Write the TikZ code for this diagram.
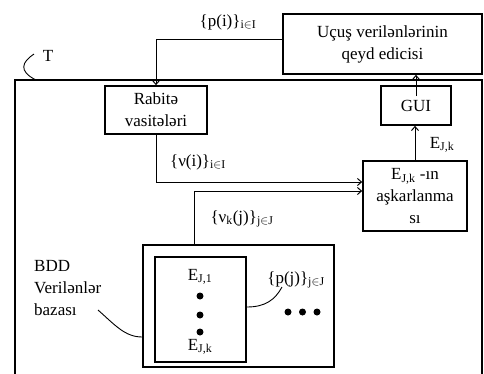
\documentclass[tikz,border=0pt]{standalone}
\usepackage{fontspec}
\setmainfont{Liberation Serif}
\usetikzlibrary{arrows.meta}
\newcommand{\sub}[1]{\textsubscript{#1}}
\begin{document}
\begin{tikzpicture}[x=1pt,y=-1pt,
  font=\fontsize{17}{22}\selectfont,
  box/.style={draw,line width=1.6pt,inner sep=0pt,align=center},
  flow/.style={line width=1pt,-{Straight Barb[length=4pt,width=7pt,line width=1pt]}},
  thin/.style={line width=0.9pt},
  lbl/.style={inner sep=0pt,align=center},
  dot/.style={circle,fill,inner sep=0pt,minimum size=7pt}]
\useasboundingbox (0,0) rectangle (484,373);
\begin{scope}
\clip (0,0) rectangle (484,373);
% enclosing block T
\draw[line width=1.6pt] (15,390) -- (15,80) -- (482,80) -- (482,390);
\end{scope}

% blocks
\node[box,minimum width=199pt,minimum height=60pt] (uc) at (382.5,44) {Uçuş verilənlərinin\\qeyd edicisi};
\node[box,minimum width=102pt,minimum height=48pt] (rab) at (156,110) {Rabitə\\vasitələri};
\node[box,minimum width=70pt,minimum height=39pt] (gui) at (416,105.5) {GUI};
\node[box,minimum width=104pt,minimum height=70pt] (ask) at (415,196) {E\sub{J,k} -ın\\aşkarlanma\\sı};
\node[box,minimum width=191pt,minimum height=122pt] (bdd) at (238.5,306) {};
\node[box,minimum width=91pt,minimum height=105pt] (db) at (200.5,309.5) {};

% records inside the database
\node[lbl] (e1) at (200,277) {E\sub{J,1}};
\node[dot] (d1) at (200,296) {};
\node[dot] (d2) at (200,315) {};
\node[dot] (d3) at (200,332) {};
\node[lbl] (ek) at (200,347) {E\sub{J,k}};
\node[dot] (m1) at (288,312) {};
\node[dot] (m2) at (302.5,312) {};
\node[dot] (m3) at (317,312) {};

% connectors
\draw[flow] ([yshift=5pt]uc.west) -| (rab.north);
\draw[flow] (rab.south) |- ([yshift=14pt]ask.west);
\draw[flow] ([xshift=-44.5pt]bdd.north) |- ([yshift=5pt]ask.west);
\draw[flow] (ask.north) -- (ask.north |- gui.south);
\draw[flow] ([yshift=-11pt]gui.north) -- (gui.north |- uc.south);

% signal labels
\node[lbl] (lp) at (228,22) {\{p(i)\}\sub{i$\in$I}};
\node[lbl] (lv) at (198,162) {\{ν(i)\}\sub{i$\in$I}};
\node[lbl] (lvk) at (242,219) {\{ν\sub{k}(j)\}\sub{j$\in$J}};
\node[lbl] (le) at (442,145) {E\sub{J,k}};
\node[lbl] (lpj) at (296,280) {\{p(j)\}\sub{j$\in$J}};

% T label with its leader
\node[lbl] (lt) at (48,56) {T};
\coordinate (t0) at (34,54);
\coordinate (t1) at (36,80);
\draw[thin] (t0) .. controls (22,62) and (18,71) .. (t1);

% database label with its leader
\node[lbl,align=left,anchor=west] (lb) at (34,288) {BDD\\Verilənlər\\bazası};
\coordinate (b0) at (98,310);
\draw[thin] (b0) .. controls (115,325) and (125,337) .. (bdd.west |- 0,337);

% leader for the record set
\coordinate (p1) at (282,287);
\draw[thin] (db.east |- 0,307) .. controls (265,307) and (275,300) .. (p1);
\end{tikzpicture}
\end{document}
